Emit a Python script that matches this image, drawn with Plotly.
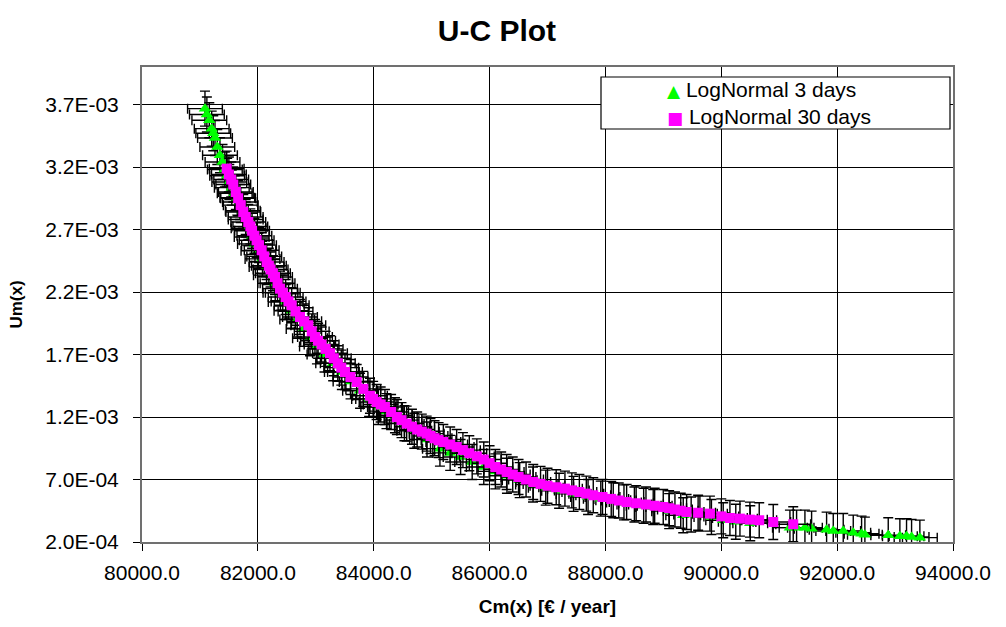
import plotly.graph_objects as go

# ---- data ----
c_3d = [81087, 81120, 81162, 81203, 81230, 81260, 81300, 81346, 81390, 81430,
        81470, 81507, 81550, 81600, 81645, 81691, 81740, 81790, 81840, 81893,
        81950, 82010, 82080, 82150, 82225, 82300, 82390, 82480, 82580, 82680,
        82790, 82900, 83020, 83150, 83300, 83450, 83600, 83764, 83920, 84079,
        84220, 84367, 84530, 84700, 84920, 85143, 85320, 85500, 85700, 85900,
        86100, 86300, 86520, 86750, 86970, 87200, 87450, 87700, 87920, 88135,
        88320, 88500, 88660, 88825, 89100, 89343, 89480, 89631, 89830, 90033,
        90250, 90500, 91185, 91300, 91444, 91559, 91818, 91933, 92105, 92278,
        92422, 92479, 92882, 93083, 93198, 93285, 93428]
u_3d = [0.003667, 0.003620, 0.003574, 0.003507, 0.003470, 0.003432, 0.003360,
        0.003294, 0.003240, 0.003180, 0.003130, 0.003080, 0.003035, 0.002990,
        0.002955, 0.002920, 0.002850, 0.002780, 0.002710, 0.002640, 0.002585,
        0.002530, 0.002465, 0.002400, 0.002335, 0.002270, 0.002195, 0.002120,
        0.002050, 0.001980, 0.001905, 0.001830, 0.001765, 0.001700, 0.001630,
        0.001560, 0.001485, 0.001410, 0.001345, 0.001280, 0.001247, 0.001214,
        0.001150, 0.001090, 0.001020, 0.000947, 0.000913, 0.000880, 0.000840,
        0.000800, 0.000765, 0.000730, 0.000695, 0.000660, 0.000635, 0.000610,
        0.000585, 0.000560, 0.000547, 0.000534, 0.000517, 0.000500, 0.000490,
        0.000480, 0.000447, 0.000414, 0.000420, 0.000427, 0.000400, 0.000374,
        0.000362, 0.000350, 0.000315, 0.000315, 0.000315, 0.000307, 0.000299,
        0.000288, 0.000288, 0.000275, 0.000267, 0.000259, 0.000254, 0.000246,
        0.000246, 0.000240, 0.000235]

c_30d = [81462, 81500, 81540, 81576, 81620, 81660, 81705, 81749, 81790, 81835,
         81870, 81900, 81940, 81979, 82020, 82066, 82110, 82152, 82190, 82220,
         82260, 82296, 82340, 82382, 82430, 82480, 82530, 82584, 82650, 82727,
         82800, 82871, 82930, 82986, 83040, 83100, 83170, 83245, 83310, 83380,
         83440, 83504, 83600, 83706, 83820, 83935, 83990, 84050, 84120, 84194,
         84300, 84400, 84480, 84569, 84660, 84750, 84830, 84914, 84980, 85050,
         85120, 85202, 85320, 85432, 85540, 85650, 85780, 85900, 86000, 86100,
         86200, 86295, 86400, 86500, 86630, 86754, 86880, 87000, 87150, 87301,
         87420, 87550, 87670, 87790, 87950, 88100, 88230, 88366, 88530, 88700,
         88850, 88998, 89100, 89200, 89300, 89401, 89600, 89804, 90000, 90149,
         90322, 90494, 90655, 90897, 91242]
u_30d = [0.003187, 0.003140, 0.003100, 0.003060, 0.003000, 0.002950, 0.002895,
         0.002840, 0.002800, 0.002760, 0.002725, 0.002690, 0.002650, 0.002614,
         0.002575, 0.002534, 0.002485, 0.002440, 0.002410, 0.002380, 0.002350,
         0.002320, 0.002270, 0.002227, 0.002195, 0.002160, 0.002125, 0.002094,
         0.002045, 0.002000, 0.001965, 0.001934, 0.001885, 0.001840, 0.001810,
         0.001780, 0.001745, 0.001710, 0.001670, 0.001630, 0.001595, 0.001560,
         0.001520, 0.001480, 0.001425, 0.001370, 0.001345, 0.001320, 0.001300,
         0.001280, 0.001240, 0.001200, 0.001175, 0.001147, 0.001122, 0.001100,
         0.001083, 0.001067, 0.001048, 0.001030, 0.001015, 0.001000, 0.000980,
         0.000960, 0.000935, 0.000910, 0.000885, 0.000860, 0.000830, 0.000800,
         0.000780, 0.000760, 0.000740, 0.000720, 0.000700, 0.000680, 0.000665,
         0.000650, 0.000638, 0.000627, 0.000613, 0.000600, 0.000587, 0.000574,
         0.000560, 0.000545, 0.000532, 0.000520, 0.000510, 0.000500, 0.000490,
         0.000480, 0.000470, 0.000460, 0.000450, 0.000440, 0.000434, 0.000427,
         0.000405, 0.000392, 0.000387, 0.000379, 0.000374, 0.000360, 0.000342]

series_names = ["LogNormal 3 days", "LogNormal 30 days"]
err_c = 300       # half-width of the cost error bars
err_u = 0.00014   # half-height of the unavailability error bars

x_ticks = [80000, 82000, 84000, 86000, 88000, 90000, 92000, 94000]
x_tick_text = ["80000.0", "82000.0", "84000.0", "86000.0", "88000.0",
               "90000.0", "92000.0", "94000.0"]
y_ticks = [0.0002, 0.0007, 0.0012, 0.0017, 0.0022, 0.0027, 0.0032, 0.0037]
y_tick_text = ["2.0E-04", "7.0E-04", "1.2E-03", "1.7E-03", "2.2E-03",
               "2.7E-03", "3.2E-03", "3.7E-03"]

FONT = "Liberation Sans, Arial, sans-serif"
GREEN = "#00FF00"
MAGENTA = "#FF00FF"

fig = go.Figure()
errx = dict(type="constant", value=err_c, color="black", thickness=1.4, width=5)
erry = dict(type="constant", value=err_u, color="black", thickness=1.4, width=5)

fig.add_trace(go.Scatter(
    x=c_3d, y=u_3d, mode="markers", name=series_names[0], showlegend=False,
    marker=dict(symbol="triangle-up", size=11, color=GREEN),
    error_x=errx, error_y=erry))
fig.add_trace(go.Scatter(
    x=c_30d, y=u_30d, mode="markers", name=series_names[1], showlegend=False,
    marker=dict(symbol="square", size=10, color=MAGENTA),
    error_x=errx, error_y=erry))

# plot area in pixels: left 142, right 953, top 67, bottom 542
def px_x(p):
    return (p - 142) / 811

def px_y(p):
    return (542 - p) / 475

legend_text = (
    f"<span style='color:{GREEN};font-size:17px;font-family:DejaVu Sans'>▲</span> "
    f"{series_names[0]}<br>"
    f"<span style='color:{MAGENTA};font-size:17px;font-family:DejaVu Sans'>■</span> "
    f"{series_names[1]}")

fig.update_layout(
    width=1006, height=627,
    margin=dict(l=142, r=53, t=67, b=85),
    paper_bgcolor="white", plot_bgcolor="white",
    font=dict(family=FONT, color="black"),
    title=dict(text="<b>U-C Plot</b>", x=0.494, xanchor="center",
               y=0.952, yanchor="middle", font=dict(size=30, family=FONT)),
    showlegend=False,
    shapes=[dict(type="rect", xref="paper", yref="paper",
                 x0=px_x(601), x1=px_x(950), y0=px_y(129), y1=px_y(77),
                 line=dict(color="black", width=1.2),
                 fillcolor="white", layer="above")],
    annotations=[dict(xref="paper", yref="paper", x=px_x(665), y=px_y(103),
                      xanchor="left", yanchor="middle", align="left",
                      showarrow=False, text=legend_text,
                      font=dict(size=21, color="black", family=FONT))],
)

fig.update_xaxes(
    range=[80000, 94000], tickvals=x_ticks, ticktext=x_tick_text,
    showgrid=True, gridcolor="black", gridwidth=1,
    showline=True, linecolor="#707070", linewidth=2, mirror=True,
    ticks="outside", ticklen=7, tickcolor="black", ticklabelstandoff=4,
    tickfont=dict(size=21, family=FONT), zeroline=False,
    title=dict(text="<b>Cm(x) [€ / year]</b>", font=dict(size=19, family=FONT),
               standoff=16))
fig.update_yaxes(
    range=[0.0002, 0.004], tickvals=y_ticks, ticktext=y_tick_text,
    showgrid=True, gridcolor="black", gridwidth=1,
    showline=True, linecolor="#707070", linewidth=2, mirror=True,
    ticks="outside", ticklen=7, tickcolor="black", ticklabelstandoff=10,
    tickfont=dict(size=21, family=FONT), zeroline=False,
    title=dict(text="<b>Um(x)</b>", font=dict(size=17, family=FONT),
               standoff=18))

fig.write_html("out.html")
